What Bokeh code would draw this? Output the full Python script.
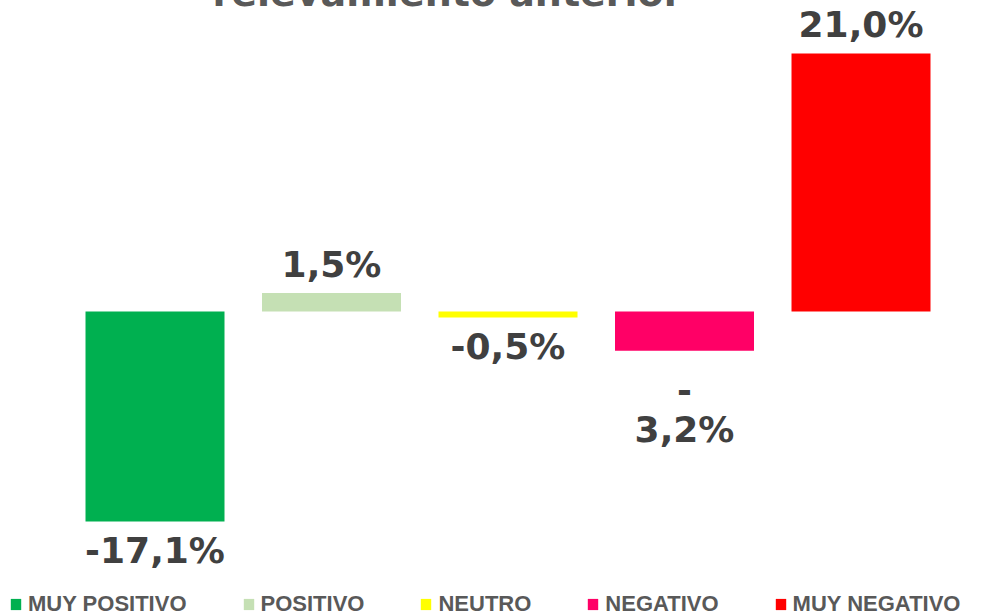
from bokeh.plotting import figure
from bokeh.models import ColumnDataSource, Range1d, Label, Legend, LegendItem
from bokeh.embed import file_html
from bokeh.resources import INLINE
from bokeh.core.properties import value

categories = ["MUY POSITIVO", "POSITIVO", "NEUTRO", "NEGATIVO", "MUY NEGATIVO"]
values = [-17.1, 1.5, -0.5, -3.2, 21.0]
labels = ["-17,1%", "1,5%", "-0,5%", "-\n3,2%", "21,0%"]
colors = ["#00B050", "#C5E0B4", "#FFFF00", "#FF0066", "#FF0000"]
title_line = "relevamiento anterior"

W, H = 989, 624
p = figure(width=W, height=H, output_backend="svg", toolbar_location=None,
           x_range=Range1d(-0.9207, 4.6827), y_range=Range1d(-24.83, 25.96),
           min_border=0, min_border_left=0, min_border_right=0,
           min_border_top=0, min_border_bottom=0)
p.margin = (-8, 0, 0, -8)
p.axis.visible = False
p.xgrid.visible = False
p.ygrid.visible = False
p.outline_line_color = None
p.background_fill_color = "white"
p.border_fill_color = "white"

xs = list(range(len(categories)))
src = ColumnDataSource(dict(x=xs, top=values, bottom=[0] * len(values), cat=categories,
                            color=colors, label=labels))
r = p.vbar(x="x", top="top", bottom="bottom", width=0.7875, fill_color="color",
           line_color=None, source=src)


def subset(cond):
    idx = [i for i in range(len(values)) if cond(i)]
    return ColumnDataSource(dict(x=[xs[i] for i in idx], y=[values[i] for i in idx],
                                 t=[labels[i] for i in idx]))


common = dict(text_font=value("DejaVu Sans"), text_font_style="bold",
              text_font_size="36px", text_color="#404040", text_align="center")
p.text(x="x", y="y", text="t", source=subset(lambda i: values[i] >= 0),
       text_baseline="alphabetic", y_offset=-29, **common)
p.text(x="x", y="y", text="t",
       source=subset(lambda i: values[i] < 0 and "\n" not in labels[i]),
       text_baseline="top", y_offset=8, **common)
p.text(x="x", y="y", text="t",
       source=subset(lambda i: values[i] < 0 and "\n" in labels[i]),
       text_baseline="top", y_offset=19, text_line_height=0.95, **common)

p.add_layout(Label(x=455, y=H, x_units="screen", y_units="screen",
                   text=title_line, text_align="center", text_baseline="alphabetic",
                   text_font="DejaVu Sans", text_font_style="bold",
                   text_font_size="38px", text_color="#595959"))

items = [LegendItem(label=c, renderers=[r], index=i) for i, c in enumerate(categories)]
legend = Legend(items=items, orientation="horizontal", location=(17, -1),
                glyph_width=13, glyph_height=14, label_standoff=6, spacing=55,
                padding=0, margin=0, border_line_alpha=0, background_fill_alpha=0,
                label_text_font="Liberation Sans",
                label_text_font_style="bold", label_text_font_size="22px",
                label_text_color="#595959", label_height=20)
p.add_layout(legend)

open("out.html", "w").write(file_html(p, INLINE))
